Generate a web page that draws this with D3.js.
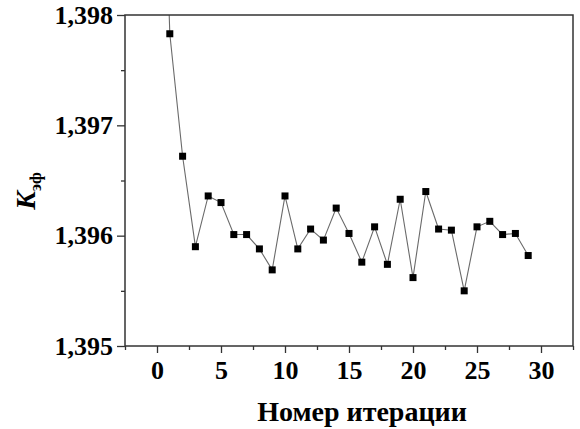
<!DOCTYPE html>
<html>
<head>
<meta charset="utf-8">
<script src="https://cdn.jsdelivr.net/npm/d3@7"></script>
<style>
  html, body { margin: 0; padding: 0; background: #fff; }
  svg { display: block; }
</style>
</head>
<body>
<svg id="chart" width="580" height="429"></svg>
<script>
// Iteration number and effective multiplication factor K_eff per iteration
const iterations = [0, 1, 2, 3, 4, 5, 6, 7, 8, 9, 10, 11, 12, 13, 14, 15, 16, 17, 18, 19, 20, 21, 22, 23, 24, 25, 26, 27, 28, 29];
const keff = [1.4015, 1.39783, 1.39672, 1.39590, 1.39636, 1.39630, 1.39601, 1.39601, 1.39588, 1.39569,
              1.39636, 1.39588, 1.39606, 1.39596, 1.39625, 1.39602, 1.39576, 1.39608, 1.39574, 1.39633,
              1.39562, 1.39640, 1.39606, 1.39605, 1.39550, 1.39608, 1.39613, 1.39601, 1.39602, 1.39582];

const xTicks = [0, 5, 10, 15, 20, 25, 30];
const xMinorTicks = [-2.5, 2.5, 7.5, 12.5, 17.5, 22.5, 27.5, 32.5];
const yTicks = [1.395, 1.396, 1.397, 1.398];
const yMinorTicks = [1.3955, 1.3965, 1.3975];
const xTitle = "Номер итерации";

const FONT = "'Liberation Serif'";

const svg = d3.select("#chart");
const m = { left: 125, right: 573, top: 15, bottom: 346 };

const x = d3.scaleLinear().domain([-2.5, 32.5]).range([m.left, m.right]);
const y = d3.scaleLinear().domain([1.395, 1.398]).range([m.bottom, m.top]);

const ru = d3.formatLocale({ decimal: ",", thousands: "\u00a0", grouping: [3], currency: ["", ""] });
const fmtY = ru.format(".3f");

svg.append("defs").append("clipPath").attr("id", "plot-clip")
  .append("rect")
  .attr("x", m.left).attr("y", m.top)
  .attr("width", m.right - m.left).attr("height", m.bottom - m.top);

const pts = iterations.map((it, i) => ({ it, v: keff[i] }));

// connecting line
const line = d3.line().x(d => x(d.it)).y(d => y(d.v));
svg.append("path")
  .datum(pts)
  .attr("clip-path", "url(#plot-clip)")
  .attr("d", line)
  .attr("fill", "none")
  .attr("stroke", "#6a6a6a")
  .attr("stroke-width", 1.1);

// square markers
const sz = 7;
svg.append("g").attr("clip-path", "url(#plot-clip)")
  .selectAll("rect")
  .data(pts)
  .join("rect")
  .attr("x", d => x(d.it) - sz / 2)
  .attr("y", d => y(d.v) - sz / 2)
  .attr("width", sz)
  .attr("height", sz)
  .attr("fill", "#000");

// frame
svg.append("rect")
  .attr("x", m.left).attr("y", m.top)
  .attr("width", m.right - m.left).attr("height", m.bottom - m.top)
  .attr("fill", "none")
  .attr("stroke", "#333")
  .attr("stroke-width", 1.5);

function styleAxis(g) {
  g.select(".domain").remove();
  g.selectAll("line").attr("stroke", "#333").attr("stroke-width", 1.3);
  g.attr("font-family", null).attr("font-size", null);
  g.selectAll("text")
    .style("font-family", FONT)
    .style("font-weight", "bold")
    .style("font-size", "26px")
    .attr("fill", "#000");
}

// bottom axis
svg.append("g")
  .attr("transform", `translate(0,${m.bottom})`)
  .call(d3.axisBottom(x).tickValues(xMinorTicks).tickSize(4).tickFormat(""))
  .call(styleAxis);
svg.append("g")
  .attr("transform", `translate(0,${m.bottom})`)
  .call(d3.axisBottom(x).tickValues(xTicks).tickSize(7).tickPadding(8).tickFormat(d3.format("d")))
  .call(styleAxis);

// left axis
svg.append("g")
  .attr("transform", `translate(${m.left},0)`)
  .call(d3.axisLeft(y).tickValues(yMinorTicks).tickSize(4).tickFormat(""))
  .call(styleAxis);
svg.append("g")
  .attr("transform", `translate(${m.left},0)`)
  .call(d3.axisLeft(y).tickValues(yTicks).tickSize(8).tickPadding(4).tickFormat(fmtY))
  .call(styleAxis);

// axis titles
svg.append("text")
  .attr("x", 362)
  .attr("y", 421)
  .attr("text-anchor", "middle")
  .style("font-family", FONT)
  .style("font-weight", "bold")
  .style("font-size", "28px")
  .text(xTitle);

const yLab = svg.append("text")
  .attr("transform", "translate(35,191) rotate(-90)")
  .attr("text-anchor", "middle")
  .style("font-family", FONT)
  .style("font-weight", "bold");
yLab.append("tspan")
  .style("font-size", "28px")
  .style("font-style", "italic")
  .text("K");
yLab.append("tspan")
  .style("font-size", "17px")
  .attr("dy", 6)
  .text("эф");
</script>
</body>
</html>
